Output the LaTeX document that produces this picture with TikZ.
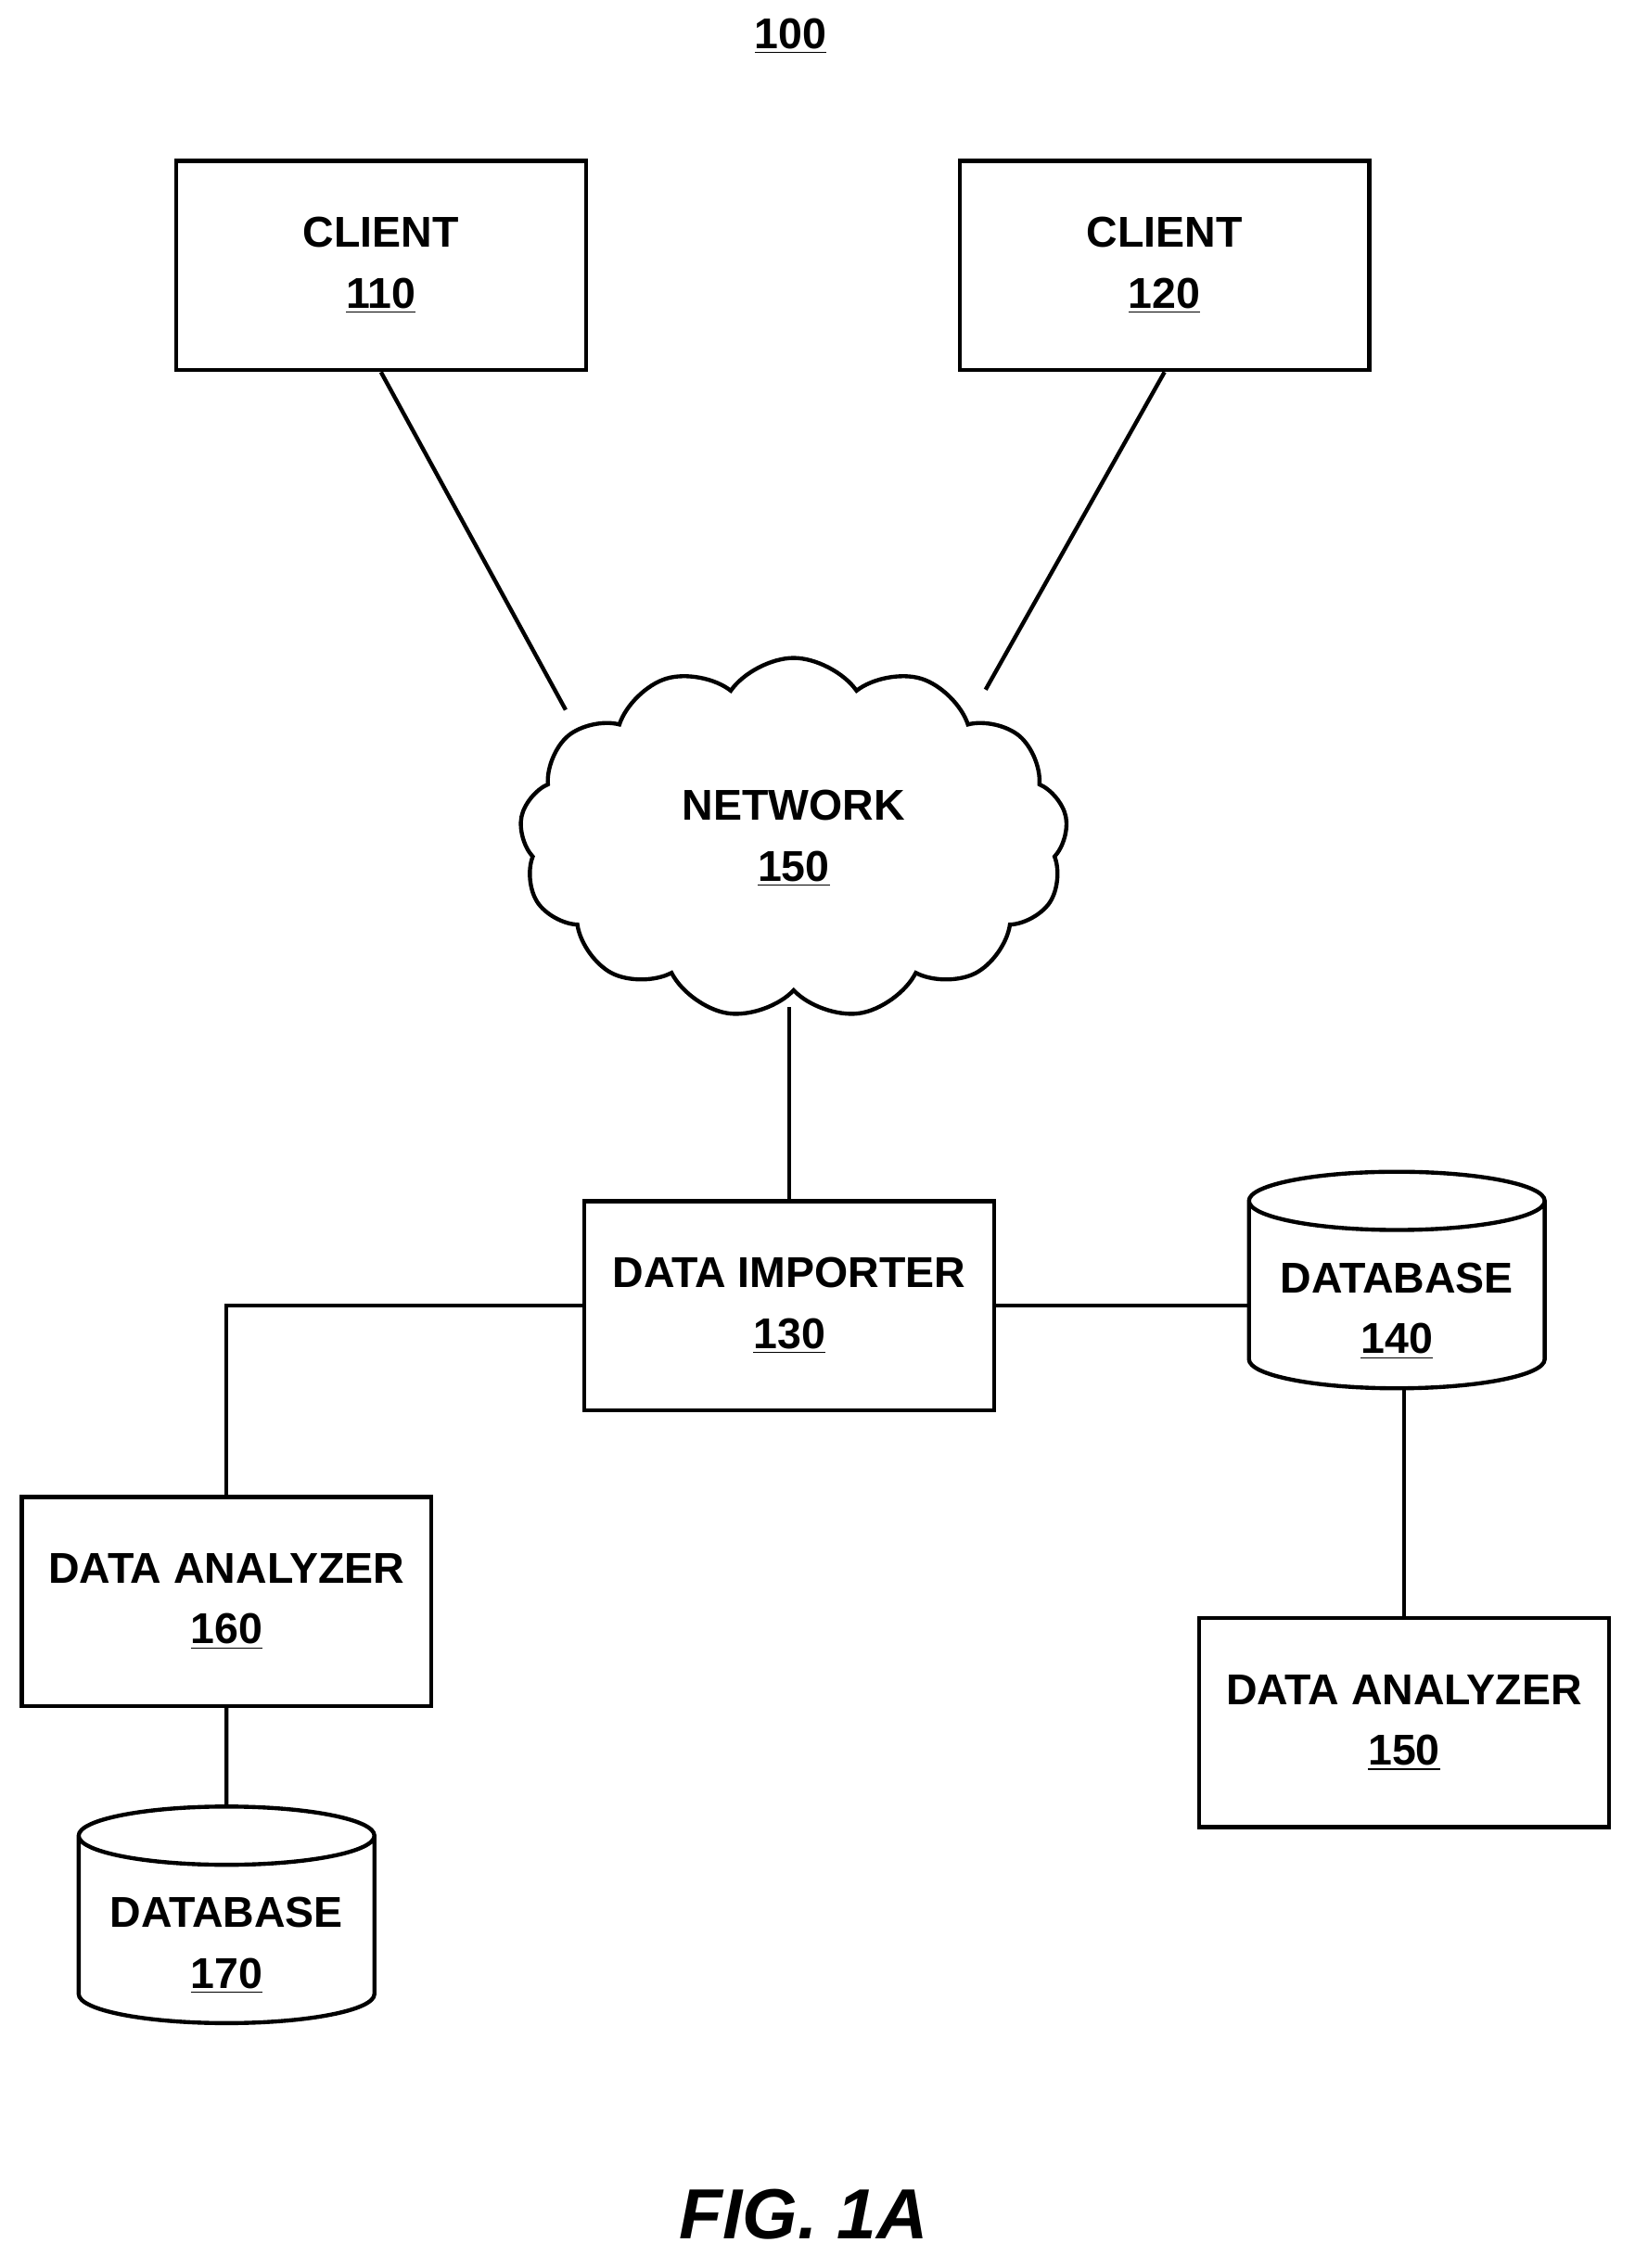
\documentclass[tikz,border=0pt]{standalone}
\usepackage{fontspec}
\setmainfont{Liberation Sans}
\usetikzlibrary{shapes.geometric,shapes.symbols}
\begin{document}
\begin{tikzpicture}[x=0.02cm,y=-0.02cm,line width=1.6pt,
  lbl/.style={font=\bfseries\fontsize{17}{24}\selectfont,align=center},
  box/.style={draw,lbl,minimum width=5.68cm,minimum height=2.9cm,inner sep=0pt},
  db/.style={draw,lbl,cylinder,shape border rotate=90,aspect=0.25,minimum width=4.1cm,minimum height=3.0cm,inner sep=0pt},
  net/.style={draw,lbl,cloud,cloud puffs=13,cloud puff arc=110,aspect=1.45,minimum width=7.6cm,minimum height=5.0cm,inner sep=0pt}]
\useasboundingbox (0,0) rectangle (1133,1572);
\node[lbl] (t) at (548,25) {\underline{100}};
\node[box] (c1) at (264,184) {CLIENT\\\underline{110}};
\node[box] (c2) at (807,184) {CLIENT\\\underline{120}};
\node[net] (n) at (550,581) {NETWORK\\\underline{150}};
\node[box] (di) at (547,905) {DATA IMPORTER\\\underline{130}};
\node[db] (d140) at (968,898) {\\DATABASE\\\underline{140}};
\node[box] (a160) at (157,1110) {DATA ANALYZER\\\underline{160}};
\node[db] (d170) at (157,1338) {\\DATABASE\\\underline{170}};
\node[box] (a150) at (973,1194) {DATA ANALYZER\\\underline{150}};
\node[font=\bfseries\itshape\fontsize{28}{32}\selectfont] (fig) at (557,1535) {FIG. 1A};
\coordinate (p1) at (392,492);
\coordinate (p2) at (683,478);
\coordinate (p3) at (547,698);
\draw (c1.south) -- (p1);
\draw (c2.south) -- (p2);
\draw (p3) -- (di.north);
\draw (di.east) -- (di.east -| d140.west);
\draw (di.west) -| (a160.north);
\draw (a160.south) -- (d170.north);
\draw (d140.south -| a150.north) -- (a150.north);
\end{tikzpicture}
\end{document}
